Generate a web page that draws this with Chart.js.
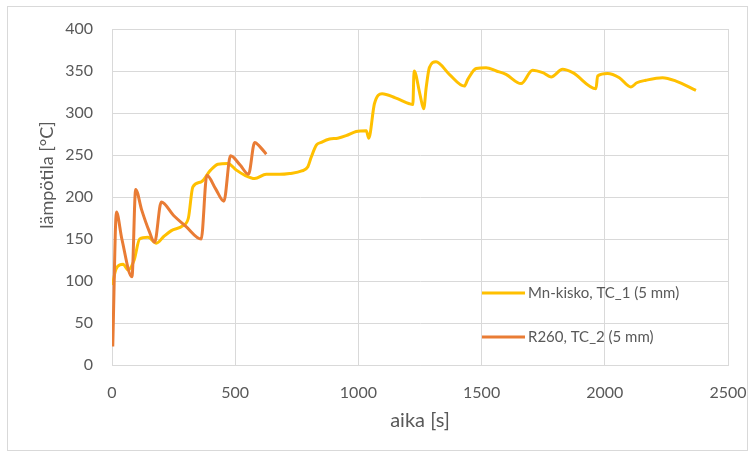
<!DOCTYPE html>
<html>
<head>
<meta charset="utf-8">
<script src="https://cdn.jsdelivr.net/npm/chart.js@4/dist/chart.umd.min.js"></script>
<style>
  html, body { margin: 0; padding: 0; background: #ffffff; }
  #c { display: block; }
</style>
</head>
<body>
<canvas id="c" width="754" height="457"></canvas>
<script>
// Mn-kisko, thermocouple TC_1 at 5 mm depth
const mnTime = [2, 12, 22, 45, 65, 90, 112, 146, 180, 210, 241, 288, 310, 328, 362, 400, 430, 470, 505, 538,
  579, 626, 680, 721, 770, 795, 808, 830, 849, 883, 916, 950, 991, 1032, 1042, 1065, 1096, 1150, 1207, 1221,
  1226, 1250, 1265, 1275, 1288, 1315, 1369, 1430, 1444, 1478, 1518, 1560, 1599, 1660, 1707, 1748, 1782, 1829,
  1870, 1964, 1971, 2011, 2059, 2106, 2130, 2167, 2234, 2289, 2370];
const mnTemp = [95, 110, 117, 120, 113, 125, 150, 152, 145, 153, 160, 166, 175, 212, 218, 232, 239, 240, 232, 226,
  222, 227, 227, 228, 231, 236, 247, 262, 265, 269, 270, 273, 278, 279, 270, 311, 323, 318, 311, 310,
  350, 322, 305, 330, 354, 361, 346, 332, 340, 353, 354, 350, 346, 335, 351, 348, 343, 352,
  348, 329, 344, 347, 342, 331, 336, 339, 342, 338, 327];

// R260, thermocouple TC_2 at 5 mm depth
const rTime = [3, 18, 40, 81, 96, 120, 150, 173, 200, 250, 300, 362, 385, 420, 454, 481, 520, 554, 579, 600, 626];
const rTemp = [22, 182, 150, 105, 209, 185, 160, 146, 194, 178, 165, 150, 226, 210, 195, 249, 238, 227, 265, 260, 251];

const seriesNames = ['Mn-kisko, TC_1 (5 mm)', 'R260, TC_2 (5 mm)'];
const seriesColors = ['#FFC000', '#E97C35'];
const xTicks = [0, 500, 1000, 1500, 2000, 2500];
const yTicks = [0, 50, 100, 150, 200, 250, 300, 350, 400];
const xTitle = 'aika [s]';
const yTitle = 'lämpötila [°C]';

const FONT = 'Lato, "Open Sans", sans-serif';
const TEXT = '#595959';

const toPoints = (xs, ys) => xs.map((x, i) => ({ x: x, y: ys[i] }));

// Outer frame, axis titles and the in-plot legend
const decorations = {
  id: 'decorations',
  beforeDraw(chart) {
    const ctx = chart.ctx;
    ctx.save();
    ctx.fillStyle = '#ffffff';
    ctx.fillRect(0, 0, chart.width, chart.height);
    ctx.strokeStyle = '#D9D9D9';
    ctx.lineWidth = 1;
    ctx.strokeRect(7.5, 6.5, 740, 444);
    ctx.restore();
  },
  afterDraw(chart) {
    const ctx = chart.ctx;
    const ca = chart.chartArea;
    ctx.save();
    ctx.fillStyle = TEXT;
    ctx.textAlign = 'center';
    ctx.textBaseline = 'middle';
    ctx.font = '20px ' + FONT;
    ctx.fillText(xTitle, (ca.left + ca.right) / 2, ca.bottom + 56);
    ctx.font = '18px ' + FONT;
    ctx.translate(47, ca.top + 146);
    ctx.rotate(-Math.PI / 2);
    ctx.fillText(yTitle, 0, 0);
    ctx.restore();

    ctx.save();
    ctx.font = '15px ' + FONT;
    ctx.textAlign = 'left';
    ctx.textBaseline = 'middle';
    chart.data.datasets.forEach((ds, i) => {
      const y = ca.bottom - 72 + i * 44;
      const x0 = ca.right - 246;
      ctx.strokeStyle = ds.borderColor;
      ctx.lineWidth = 3;
      ctx.beginPath();
      ctx.moveTo(x0, y);
      ctx.lineTo(x0 + 43, y);
      ctx.stroke();
      ctx.fillStyle = TEXT;
      ctx.fillText(ds.label, x0 + 46, y);
    });
    ctx.restore();
  }
};

new Chart(document.getElementById('c'), {
  type: 'line',
  data: {
    datasets: [
      {
        label: seriesNames[0],
        data: toPoints(mnTime, mnTemp),
        borderColor: seriesColors[0],
        backgroundColor: seriesColors[0],
        borderWidth: 3,
        pointRadius: 0,
        cubicInterpolationMode: 'monotone',
        order: 1
      },
      {
        label: seriesNames[1],
        data: toPoints(rTime, rTemp),
        borderColor: seriesColors[1],
        backgroundColor: seriesColors[1],
        borderWidth: 3,
        pointRadius: 0,
        cubicInterpolationMode: 'monotone',
        order: 0
      }
    ]
  },
  options: {
    responsive: false,
    animation: false,
    layout: { padding: { top: 29, right: 26, bottom: 0, left: 0 } },
    plugins: {
      legend: { display: false },
      tooltip: { enabled: false }
    },
    scales: {
      x: {
        type: 'linear',
        min: xTicks[0],
        max: xTicks[xTicks.length - 1],
        afterBuildTicks: (scale) => { scale.ticks = xTicks.map(v => ({ value: v })); },
        afterFit: (scale) => { scale.height = 92; scale.paddingRight = 0; scale.paddingLeft = 0; },
        grid: { color: '#D9D9D9', drawTicks: false },
        border: { color: '#D9D9D9' },
        ticks: { color: TEXT, font: { family: FONT, size: 16 }, padding: 18, maxRotation: 0,
                 callback: (v) => String(v) }
      },
      y: {
        type: 'linear',
        min: yTicks[0],
        max: yTicks[yTicks.length - 1],
        afterBuildTicks: (scale) => { scale.ticks = yTicks.map(v => ({ value: v })); },
        afterFit: (scale) => { scale.width = 112; scale.paddingTop = 0; scale.paddingBottom = 0; },
        grid: { color: '#D9D9D9', drawTicks: false },
        border: { color: '#D9D9D9' },
        ticks: { color: TEXT, font: { family: FONT, size: 16 }, padding: 19,
                 callback: (v) => String(v) }
      }
    }
  },
  plugins: [decorations]
});
</script>
</body>
</html>
